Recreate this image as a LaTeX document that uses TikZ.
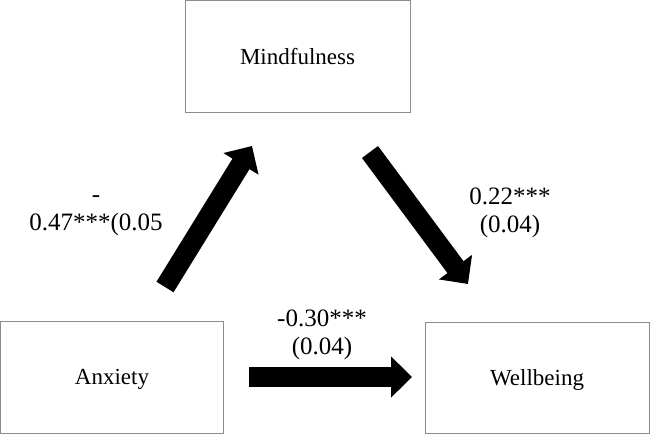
\documentclass[tikz,border=0pt]{standalone}
\usepackage{fontspec}
\setmainfont{Liberation Serif}
\usetikzlibrary{arrows.meta}
\begin{document}
\begin{tikzpicture}[x=1pt,y=-1pt,
  box/.style={draw=black!45, line width=1pt, inner sep=0pt, font=\fontsize{23}{27}\selectfont, text depth=0pt},
  blockarrow/.style={line width=20pt, -{Triangle[width=40pt,length=21pt]}},
  coef/.style={font=\fontsize{25}{28}\selectfont, align=center, inner sep=0pt}]
\useasboundingbox (0,0) rectangle (650,434);
\fill[white] (0,0) rectangle (650,434);
\node[box, minimum width=225pt, minimum height=111.5pt] (mind) at (297.5,56.25) {Mindfulness};
\node[box, minimum width=223pt, minimum height=112pt] (anx) at (112,377) {Anxiety};
\node[box, minimum width=224pt, minimum height=111pt] (well) at (537,377.5) {Wellbeing};
\coordinate (upT) at (165,287);
\coordinate (upH) at (252,146);
\coordinate (dnT) at (370,152);
\coordinate (dnH) at (468,284);
\coordinate (hzT) at (249,377);
\coordinate (hzH) at (412,377);
\draw[blockarrow] (upT) -- (upH);
\draw[blockarrow] (dnT) -- (dnH);
\draw[blockarrow] (hzT) -- (hzH);
\node[coef, anchor=base] (la) at (96,230) {-\\0.47***(0.05};
\node[coef, anchor=base] (lb) at (510,232) {0.22***\\(0.04)};
\node[coef, anchor=base] (lc) at (322,354) {-0.30***\\(0.04)};
\end{tikzpicture}
\end{document}
